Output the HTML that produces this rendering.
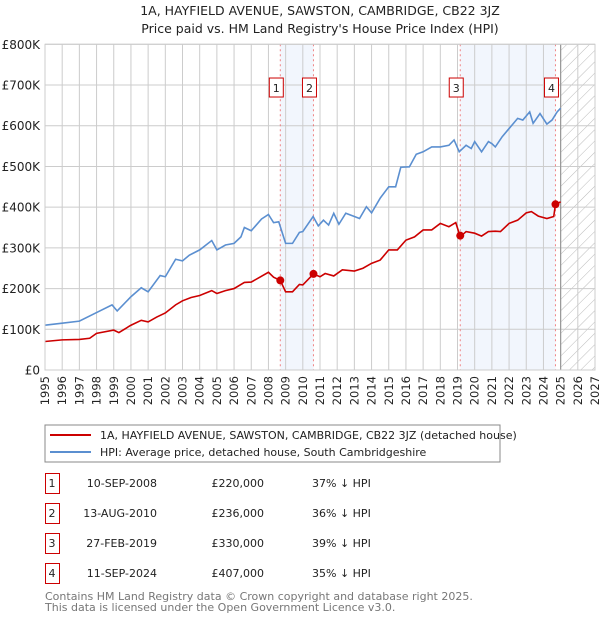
<!DOCTYPE html>
<html><head><meta charset="utf-8"><style>
body{margin:0;background:#fff;font-family:"DejaVu Sans","Liberation Sans",sans-serif;}
svg text{font-family:"DejaVu Sans","Liberation Sans",sans-serif;fill:#222;}
</style></head><body>
<svg id="chart" width="600" height="620" xmlns="http://www.w3.org/2000/svg">
<defs><pattern id="hatch" width="8" height="8" patternUnits="userSpaceOnUse" patternTransform="rotate(45)"><line x1="0" y1="0" x2="0" y2="8" stroke="#bbb" stroke-width="1"/></pattern></defs>
<text x="320" y="15" font-size="12.5" text-anchor="middle">1A, HAYFIELD AVENUE, SAWSTON, CAMBRIDGE, CB22 3JZ</text>
<text x="320" y="33" font-size="12.5" text-anchor="middle">Price paid vs. HM Land Registry's House Price Index (HPI)</text>
<g id="plot"></g>
<rect x="45" y="425" width="455" height="37" fill="#fff" stroke="#888"/>
<line x1="50" y1="435" x2="91" y2="435" stroke="#cc0000" stroke-width="2"/>
<text x="100" y="439" font-size="11">1A, HAYFIELD AVENUE, SAWSTON, CAMBRIDGE, CB22 3JZ (detached house)</text>
<line x1="50" y1="452" x2="91" y2="452" stroke="#5b8fd0" stroke-width="2"/>
<text x="100" y="456" font-size="11">HPI: Average price, detached house, South Cambridgeshire</text>
<g id="table"></g>
<text x="45" y="600" font-size="11" style="fill:#777">Contains HM Land Registry data © Crown copyright and database right 2025.</text>
<text x="45" y="611" font-size="11" style="fill:#777">This data is licensed under the Open Government Licence v3.0.</text>
</svg>
<script>
const hpiYears=[1995,1996,1997,1998,1998.9,1999.2,2000,2000.6,2001,2001.7,2002,2002.6,2003,2003.4,2004,2004.7,2005,2005.5,2006,2006.4,2006.6,2007,2007.6,2008,2008.3,2008.6,2009,2009.4,2009.8,2010,2010.6,2010.9,2011.2,2011.5,2011.8,2012.1,2012.5,2013,2013.3,2013.7,2014,2014.5,2015,2015.4,2015.7,2016.2,2016.6,2017,2017.5,2018,2018.5,2018.8,2019.1,2019.5,2019.8,2020,2020.4,2020.8,2021,2021.2,2021.6,2022,2022.5,2022.8,2023.2,2023.4,2023.8,2024.2,2024.5,2024.8,2025];
const hpiValues=[110,115,120,141,160,145,180,202,192,232,229,272,268,282,295,318,295,307,311,327,350,342,371,382,362,364,311,311,338,340,377,354,368,356,385,358,385,377,372,401,386,422,450,450,498,499,530,536,548,548,552,565,536,552,544,561,536,561,556,548,573,593,618,614,634,606,630,604,614,634,643];
const propYears=[1995,1996,1997,1997.6,1998,1999,1999.3,2000,2000.6,2001,2001.5,2002,2002.6,2003,2003.5,2004,2004.7,2005,2005.5,2006,2006.6,2007,2007.5,2008,2008.3,2008.69,2009,2009.4,2009.8,2010,2010.62,2011,2011.3,2011.8,2012.3,2013,2013.5,2014,2014.5,2015,2015.5,2016,2016.5,2017,2017.5,2018,2018.5,2018.9,2019.16,2019.5,2020,2020.4,2020.8,2021.2,2021.5,2022,2022.5,2023,2023.3,2023.7,2024.2,2024.6,2024.7,2025];
const propValues=[70,74,75,78,90,98,92,110,122,118,130,140,160,170,178,183,195,188,195,200,215,216,228,240,228,220,192,192,210,209,236,229,237,231,246,243,250,262,270,295,295,319,327,344,344,360,352,362,327,340,336,329,340,341,340,360,368,386,389,378,372,377,407,413];
const saleLabels=["1","2","3","4"];
const saleYears=[2008.69,2010.62,2019.16,2024.7];
const salePrices=[220,236,330,407];
const saleDates=["10-SEP-2008","13-AUG-2010","27-FEB-2019","11-SEP-2024"];
const salePriceText=["£220,000","£236,000","£330,000","£407,000"];
const saleDiff=["37% ↓ HPI","36% ↓ HPI","39% ↓ HPI","35% ↓ HPI"];
const yTicks=[0,100,200,300,400,500,600,700,800];
const yTickLabels=["£0","£100K","£200K","£300K","£400K","£500K","£600K","£700K","£800K"];
const xTicks=[1995,1996,1997,1998,1999,2000,2001,2002,2003,2004,2005,2006,2007,2008,2009,2010,2011,2012,2013,2014,2015,2016,2017,2018,2019,2020,2021,2022,2023,2024,2025,2026,2027];

const NS="http://www.w3.org/2000/svg";
const L=45,R=595,T=44.3,B=370;
const x=v=>L+(v-1995)/(2027-1995)*(R-L);
const y=v=>B-v/800*(B-T);
const plot=document.getElementById('plot');
function mk(tag,attrs,parent){const e=document.createElementNS(NS,tag);for(const k in attrs)e.setAttribute(k,attrs[k]);(parent||plot).appendChild(e);return e;}
for(const [a,b] of [[0,1],[2,3]]){
  const r=mk('rect',{x:x(saleYears[a]),y:T,width:x(saleYears[b])-x(saleYears[a]),height:B-T,fill:'#f2f6fd'});
  
  
}
const h=mk('rect',{x:x(2025),y:T,width:R-x(2025),height:B-T,fill:'url(#hatch)'});


xTicks.forEach(t=>{
  const g=mk('line',{x1:x(t),x2:x(t),y1:T,y2:B,stroke:'#ccc','stroke-width':1});
  
  
  const tx=mk('text',{x:0,y:0,'font-size':11.5,'text-anchor':'end',transform:`translate(${x(t)+4},${B+6}) rotate(-90)`});
  tx.textContent=t;
  
  
});
yTicks.forEach((t,i)=>{
  const g=mk('line',{x1:L,x2:R,y1:y(t),y2:y(t),stroke:'#ccc','stroke-width':1});
  
  
  const tx=mk('text',{x:L-5,y:y(t)+4.5,'font-size':12,'text-anchor':'end'});
  tx.textContent=yTickLabels[i];
  
  
});
const nowL=mk('line',{x1:x(2025),x2:x(2025),y1:T,y2:B,stroke:'#999','stroke-width':1.2});


saleYears.forEach((s,i)=>{
  const d=mk('line',{x1:x(s),x2:x(s),y1:T,y2:B,stroke:'#ee6666','stroke-width':1,'stroke-dasharray':'2,3','stroke-opacity':0.8});
  
  
});
const hp=mk('polyline',{points:hpiYears.map((v,i)=>x(v)+','+y(hpiValues[i])).join(' '),fill:'none',stroke:'#5b8fd0','stroke-width':1.6});


const pp=mk('polyline',{points:propYears.map((v,i)=>x(v)+','+y(propValues[i])).join(' '),fill:'none',stroke:'#cc0000','stroke-width':1.6});


saleYears.forEach((s,i)=>{
  const c=mk('circle',{cx:x(s),cy:y(salePrices[i]),r:4,fill:'#cc0000'});
  
  
  const bx=mk('rect',{x:x(s)-11,y:y(700)-7,width:14,height:19,fill:'#fff',stroke:'#cc0000'});
  
  
  const t=mk('text',{x:x(s)-4,y:y(700)+7,'font-size':11,'text-anchor':'middle'});
  t.textContent=saleLabels[i];
  
  
});
const border=mk('rect',{x:L,y:T,width:R-L,height:B-T,fill:'none',stroke:'#ccc'});


const tb=document.getElementById('table');
saleLabels.forEach((lab,i)=>{
  const ry=483+i*30;
  const b=mk('rect',{x:45.5,y:ry-9.5,width:14,height:20,fill:'#fff',stroke:'#cc0000'},tb);
  
  
  const cols=[[52,lab,'middle'],[157,saleDates[i],'end'],[264,salePriceText[i],'end'],[312,saleDiff[i],'start']];
  const names=['table-row-number','table-sale-date','table-sale-price','table-hpi-diff'];
  cols.forEach((c,j)=>{
    const t=mk('text',{x:c[0],y:ry+4,'font-size':11,'text-anchor':c[2]},tb);
    t.textContent=c[1];
    
    
  });
});
</script>
</body></html>
